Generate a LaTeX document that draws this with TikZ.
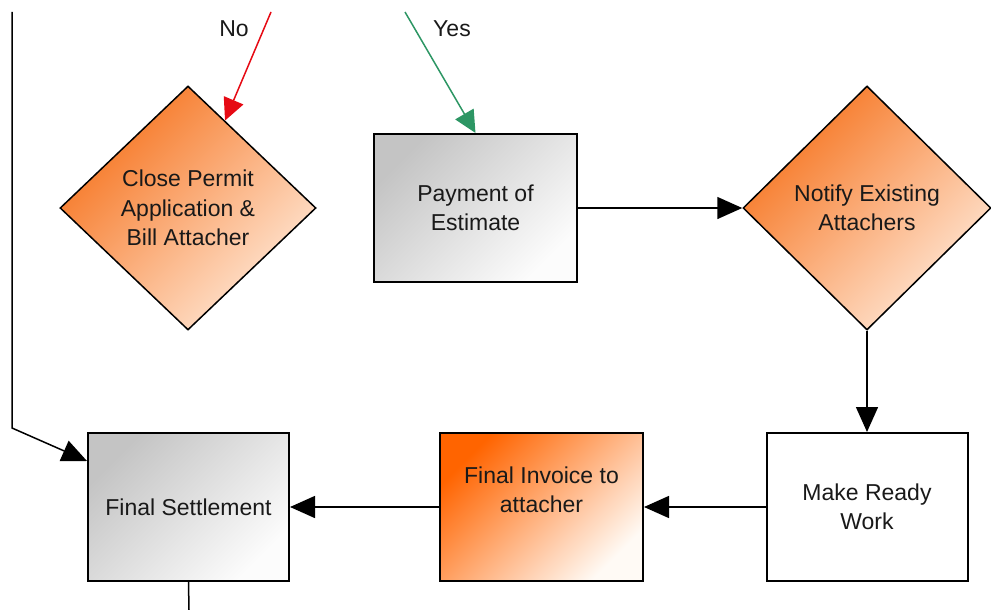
\documentclass[tikz,border=0pt]{standalone}
\usepackage{fontspec}
\setmainfont{Liberation Sans}
\usetikzlibrary{shapes.geometric,arrows.meta,calc}
\definecolor{txtc}{RGB}{25,25,25}
\definecolor{grayA}{RGB}{196,196,196}
\definecolor{grayB}{RGB}{252,252,252}
\definecolor{orA}{RGB}{255,100,0}
\definecolor{orB}{RGB}{255,250,245}
\definecolor{dA}{RGB}{246,115,30}
\definecolor{dB}{RGB}{255,232,215}
\definecolor{noRed}{RGB}{230,10,20}
\definecolor{yesGreen}{RGB}{45,150,100}
\begin{document}
\begin{tikzpicture}[x=1pt,y=-1pt,
  font=\fontsize{23}{29.5}\selectfont,
  every node/.style={text=txtc},
  boxnode/.style={rectangle, draw=black, line width=2pt, minimum width=201pt, minimum height=148pt, inner sep=0pt, align=center},
  graybox/.style={boxnode, top color=grayA, bottom color=grayB, shading angle=45},
  orangebox/.style={boxnode, top color=orA, bottom color=orB, shading angle=45},
  whitebox/.style={boxnode, fill=white},
  decision/.style={diamond, draw=black, line width=1.5pt, inner sep=0pt, align=center, top color=dA, bottom color=dB, shading angle=45},
  conn/.style={line width=1.5pt, -{Triangle[length=25pt,width=22pt]}},
  lbl/.style={inner sep=0pt},
]
\useasboundingbox (0,0) rectangle (991,610);

\node[decision, minimum width=256pt, minimum height=244pt] (CP) at (188,208) {Close Permit\\Application \&\\Bill Attacher};
\node[graybox, minimum width=203pt] (PE) at (475.5,208) {Payment of\\Estimate};
\node[decision, minimum width=248pt, minimum height=244pt] (NA) at (867,208) {Notify Existing\\Attachers};
\node[graybox] (FS) at (188.5,507) {Final Settlement};
\node[orangebox, minimum width=203pt] (FI) at (541.5,507) {};
\node[lbl, align=center] (FIt) at (541.5,490) {Final Invoice to\\attacher};
\node[whitebox] (MR) at (867,507) {Make Ready\\Work};

\coordinate (R0) at (271,12);
\coordinate (G0) at (405,12);
\coordinate (L0) at (12,12);
\coordinate (L1) at (12,428);
\coordinate (B0) at (189,610);

\node[lbl] (no) at (234,29) {No};
\node[lbl] (yes) at (452,29) {Yes};

\draw[conn, draw=noRed, fill=noRed, -{Triangle[length=22pt,width=21pt]}] (R0) -- (CP);
\draw[conn, draw=yesGreen, fill=yesGreen, -{Triangle[length=22pt,width=21pt]}] (G0) -- (PE.north);
\draw[conn] (PE.east) -- (NA.west);
\draw[conn] (NA.south) -- (MR.north);
\draw[conn] (MR.west) -- (FI.east);
\draw[conn] (FI.west) -- (FS.east);
\draw[conn] (L0) -- (L1) -- ($(FS.north west)+(0,29)$);
\draw[line width=1.5pt] (FS.south) -- (B0);
\end{tikzpicture}
\end{document}
